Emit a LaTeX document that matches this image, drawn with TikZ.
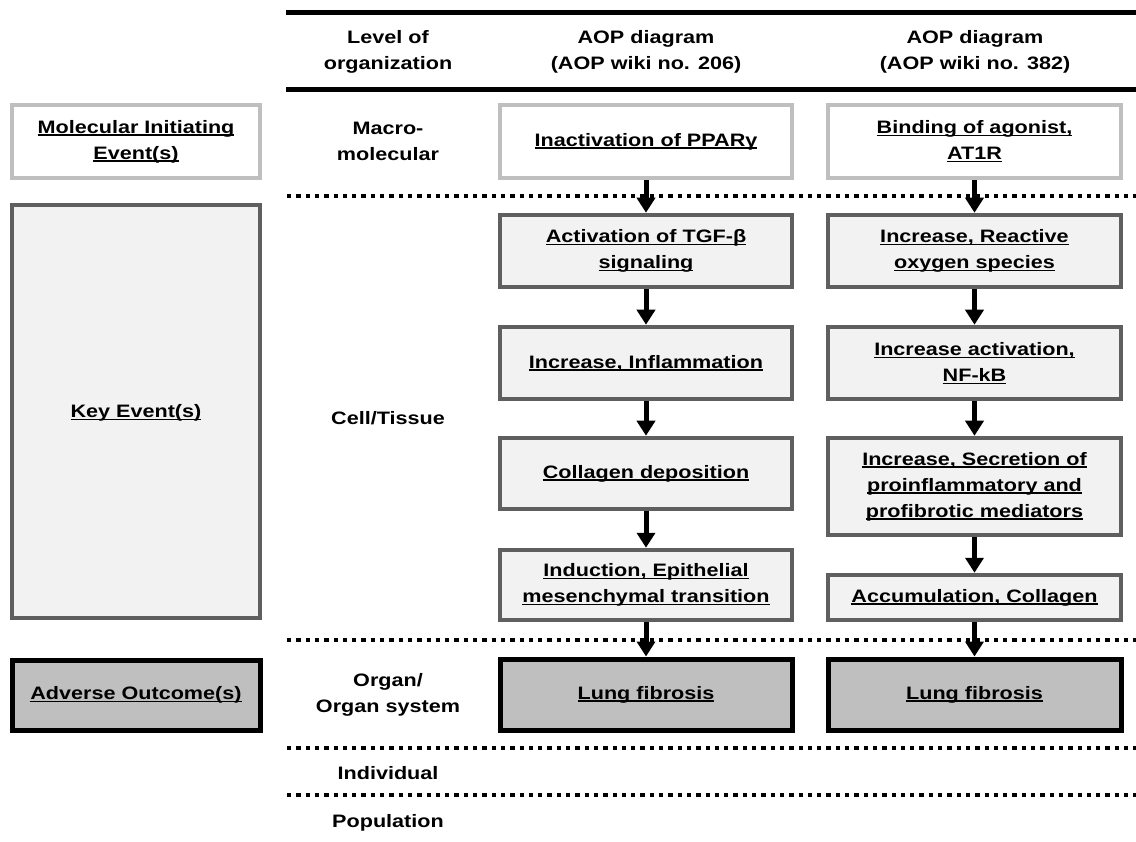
\documentclass[tikz,border=0pt]{standalone}
\usepackage{fontspec}
\setmainfont{Liberation Sans}[FakeStretch=1.2]
\usetikzlibrary{arrows.meta}
\definecolor{miegray}{HTML}{BFBFBF}
\definecolor{kegray}{HTML}{5F5F5F}
\definecolor{kefill}{HTML}{F2F2F2}
\definecolor{aofill}{HTML}{BFBFBF}
\newcommand\ulx[1]{\leavevmode\setbox0\hbox{#1}\rlap{\rule[-2.6pt]{\wd0}{1.3pt}}\box0}
\begin{document}
\begin{tikzpicture}[x=1pt,y=-1pt,
  font=\fontsize{18}{26}\selectfont\bfseries,
  every node/.style={align=center, inner sep=0pt},
  miebox/.style={draw=miegray, line width=4pt, fill=white},
  kebox/.style={draw=kegray, line width=4.5pt, fill=kefill},
  aobox/.style={draw=black, line width=5pt, fill=aofill},
  arr/.style={line width=5pt, -{Triangle[width=18pt,length=15pt]}},
  dotline/.style={line width=4.3pt, dash pattern=on 4.3pt off 5pt},
  rulex/.style={line width=5pt}]
\useasboundingbox (0,0) rectangle (1136,842);
% rules
\coordinate (r1a) at (286,13);  \coordinate (r1b) at (1136,13);
\coordinate (r2a) at (286,90);  \coordinate (r2b) at (1136,90);
\draw[rulex] (r1a) -- (r1b);
\draw[rulex] (r2a) -- (r2b);
% dotted separators
\coordinate (d1a) at (287,196); \coordinate (d1b) at (1136,196);
\coordinate (d2a) at (287,640); \coordinate (d2b) at (1136,640);
\coordinate (d3a) at (287,748); \coordinate (d3b) at (1136,748);
\coordinate (d4a) at (287,795); \coordinate (d4b) at (1136,795);
\draw[dotline] (d1a) -- (d1b);
\draw[dotline] (d2a) -- (d2b);
\draw[dotline] (d3a) -- (d3b);
\draw[dotline] (d4a) -- (d4b);
% headers
\node (h1) at (388,52) {Level of\\organization};
\node (h2) at (646,52) {AOP diagram\\(AOP wiki no. 206)};
\node (h3) at (975,52) {AOP diagram\\(AOP wiki no. 382)};
% level labels
\node (l1) at (388,141.5) {Macro-\\molecular};
\node (l2) at (388,418) {Cell/Tissue};
\node (l3) at (388,695) {Organ/\\Organ system};
\node (l4) at (388,773) {Individual};
\node (l5) at (388,823) {Population};
% left legend boxes
\node[miebox, minimum width=248pt, minimum height=73pt] (lm) at (136,141.5) {\ulx{Molecular Initiating}\\\ulx{Event(s)}};
\node[kebox, minimum width=248pt, minimum height=413pt] (lk) at (136,411.5) {};
\node (lkt) at (136,413) {\ulx{Key Event(s)}};
\node[aobox, minimum width=248pt, minimum height=70pt] (lo) at (136,695) {\ulx{Adverse Outcome(s)}};
% AOP 206
\node[miebox, minimum width=292pt, minimum height=73pt] (m1) at (646,141.5) {\ulx{Inactivation of PPARγ}};
\node[kebox, minimum width=292pt, minimum height=72pt] (a1) at (646,251) {\ulx{Activation of TGF-β}\\\ulx{signaling}};
\node[kebox, minimum width=292pt, minimum height=72pt] (a2) at (646,363) {\ulx{Increase, Inflammation}};
\node[kebox, minimum width=292pt, minimum height=71pt] (a3) at (646,473.5) {\ulx{Collagen deposition}};
\node[kebox, minimum width=292pt, minimum height=70pt] (a4) at (646,585) {\ulx{Induction, Epithelial}\\\ulx{mesenchymal transition}};
\node[aobox, minimum width=292pt, minimum height=71pt] (o1) at (646,694.5) {\ulx{Lung fibrosis}};
% AOP 382
\node[miebox, minimum width=293pt, minimum height=73pt] (m2) at (974.5,141.5) {\ulx{Binding of agonist,}\\\ulx{AT1R}};
\node[kebox, minimum width=293pt, minimum height=72pt] (b1) at (974.5,251) {\ulx{Increase, Reactive}\\\ulx{oxygen species}};
\node[kebox, minimum width=293pt, minimum height=72pt] (b2) at (974.5,363) {\ulx{Increase activation,}\\\ulx{NF-kB}};
\node[kebox, minimum width=293pt, minimum height=97pt] (b3) at (974.5,486.5) {\ulx{Increase, Secretion of}\\\ulx{proinflammatory and}\\\ulx{profibrotic mediators}};
\node[kebox, minimum width=293pt, minimum height=45pt] (b4) at (974.5,597.5) {\ulx{Accumulation, Collagen}};
\node[aobox, minimum width=293pt, minimum height=71pt] (o2) at (974.5,694.5) {\ulx{Lung fibrosis}};
% arrows
\draw[arr] (m1) -- (a1);
\draw[arr] (a1) -- (a2);
\draw[arr] (a2) -- (a3);
\draw[arr] (a3) -- (a4);
\draw[arr] (a4) -- (o1);
\draw[arr] (m2) -- (b1);
\draw[arr] (b1) -- (b2);
\draw[arr] (b2) -- (b3);
\draw[arr] (b3) -- (b4);
\draw[arr] (b4) -- (o2);
\end{tikzpicture}
\end{document}
